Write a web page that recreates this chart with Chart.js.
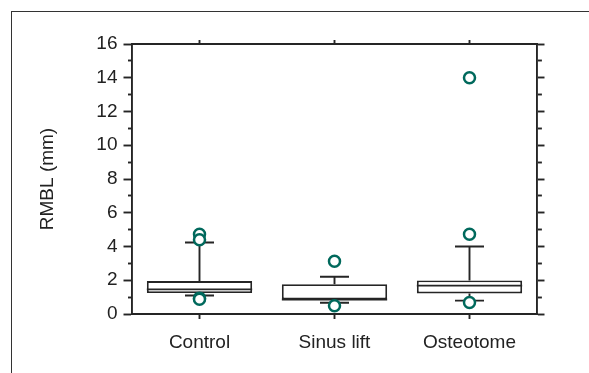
<!DOCTYPE html>
<html>
<head>
<meta charset="utf-8">
<script src="https://cdn.jsdelivr.net/npm/chart.js@4/dist/chart.umd.min.js"></script>
<style>
  body { margin: 0; background: #fff; }
  #wrap { position: relative; width: 589px; height: 373px; }
  #frame { position: absolute; left: 11px; top: 11px; right: -5px; bottom: -5px;
           border-left: 1.5px solid #333; border-top: 1.5px solid #333; }
  canvas { position: absolute; left: 0; top: 0; }
</style>
</head>
<body>
<div id="wrap">
  <div id="frame"></div>
  <canvas id="grafico" width="589" height="373"></canvas>
</div>
<script>
// datos de cada grupo
const categorias = ['Control', 'Sinus lift', 'Osteotome'];
const q1 = [1.24, 0.86, 1.22];
const mediana = [1.46, 0.86, 1.68];
const q3 = [1.95, 1.77, 1.99];
const bigoteInf = [1.1, 0.67, 0.79];
const bigoteSup = [4.24, 2.21, 4.0];
const atipicos = [
  [4.73, 4.4, 0.94, 0.88],
  [3.12, 0.49],
  [14.0, 4.73, 0.68]
];
const yTicks = [0, 2, 4, 6, 8, 10, 12, 14, 16];

const colorLinea = '#252525';
const grosor = 1.9;
const fuente = { family: 'Liberation Sans, Arial, sans-serif', size: 19 };

const puntos = [];
atipicos.forEach((lista, i) => lista.forEach(v => puntos.push({ x: categorias[i], y: v })));

// mediana y bigotes dibujados con las escalas del grafico
const bigotes = {
  id: 'bigotes',
  afterDatasetDraw(chart, args) {
    if (args.index !== 0) return;
    const ctx = chart.ctx;
    const x = chart.scales.x;
    const y = chart.scales.y;
    const meta = chart.getDatasetMeta(0);
    ctx.save();
    ctx.strokeStyle = colorLinea;
    ctx.lineWidth = grosor;
    categorias.forEach((c, i) => {
      const cx = x.getPixelForValue(i);
      const w = meta.data[i].width;
      const cap = 14.5;
      ctx.beginPath();
      ctx.moveTo(cx - w / 2, y.getPixelForValue(mediana[i]));
      ctx.lineTo(cx + w / 2, y.getPixelForValue(mediana[i]));
      // bigote superior
      ctx.moveTo(cx, y.getPixelForValue(q3[i]));
      ctx.lineTo(cx, y.getPixelForValue(bigoteSup[i]));
      ctx.moveTo(cx - cap, y.getPixelForValue(bigoteSup[i]));
      ctx.lineTo(cx + cap, y.getPixelForValue(bigoteSup[i]));
      // bigote inferior
      ctx.moveTo(cx, y.getPixelForValue(q1[i]));
      ctx.lineTo(cx, y.getPixelForValue(bigoteInf[i]));
      ctx.moveTo(cx - cap, y.getPixelForValue(bigoteInf[i]));
      ctx.lineTo(cx + cap, y.getPixelForValue(bigoteInf[i]));
      ctx.stroke();
    });
    ctx.restore();
  }
};

const esPar = ctx => ctx.tick && ctx.tick.value % 2 === 0;

new Chart(document.getElementById('grafico'), {
  type: 'bar',
  data: {
    labels: categorias,
    datasets: [
      {
        label: 'caja',
        data: q1.map((v, i) => [v, q3[i]]),
        backgroundColor: '#ffffff',
        borderColor: colorLinea,
        borderWidth: grosor,
        borderSkipped: false,
        barPercentage: 0.78,
        categoryPercentage: 1,
        order: 2
      },
      {
        type: 'scatter',
        label: 'atipicos',
        data: puntos,
        pointRadius: 5.5,
        pointBorderWidth: 2.5,
        pointBorderColor: '#00695c',
        pointBackgroundColor: '#ffffff',
        order: 1
      }
    ]
  },
  options: {
    responsive: false,
    animation: false,
    layout: { padding: 0 },
    plugins: { legend: { display: false }, tooltip: { enabled: false } },
    scales: {
      x: {
        position: 'bottom',
        offset: true,
        grid: { drawOnChartArea: false, offset: false, tickLength: 5, tickColor: colorLinea, tickWidth: grosor },
        border: { color: colorLinea, width: grosor },
        ticks: { color: '#222', font: fuente, padding: 12 },
        afterFit: s => { s.height = 59; }
      },
      x2: {
        type: 'category',
        axis: 'x',
        position: 'top',
        labels: categorias,
        offset: true,
        grid: { drawOnChartArea: false, offset: false, tickLength: 4, tickColor: colorLinea, tickWidth: grosor },
        border: { color: colorLinea, width: grosor },
        ticks: { display: false },
        afterFit: s => { s.height = 44; }
      },
      y: {
        position: 'left',
        min: 0,
        max: 16,
        ticks: {
          stepSize: 1,
          autoSkip: false,
          color: '#222',
          font: fuente,
          padding: 6,
          callback: v => (yTicks.includes(v) ? v : '')
        },
        grid: {
          drawOnChartArea: false,
          tickLength: 8.5,
          tickColor: colorLinea,
          tickWidth: grosor,
          tickBorderDash: ctx => (esPar(ctx) ? [] : [4.5, 100]),
          tickBorderDashOffset: ctx => (esPar(ctx) ? 0 : 100)
        },
        border: { color: colorLinea, width: grosor },
        title: {
          display: true,
          text: 'RMBL (mm)',
          color: '#222',
          font: { family: 'Liberation Sans, Arial, sans-serif', size: 19 },
          padding: { top: 36, bottom: 0 }
        },
        afterFit: s => { s.width = 132; }
      },
      y2: {
        position: 'right',
        min: 0,
        max: 16,
        ticks: { stepSize: 1, display: false },
        grid: {
          drawOnChartArea: false,
          tickLength: 7.5,
          tickColor: colorLinea,
          tickWidth: grosor,
          tickBorderDash: ctx => (esPar(ctx) ? [] : [4, 100])
        },
        border: { color: colorLinea, width: grosor },
        afterFit: s => { s.width = 52; }
      }
    }
  },
  plugins: [bigotes]
});
</script>
</body>
</html>
